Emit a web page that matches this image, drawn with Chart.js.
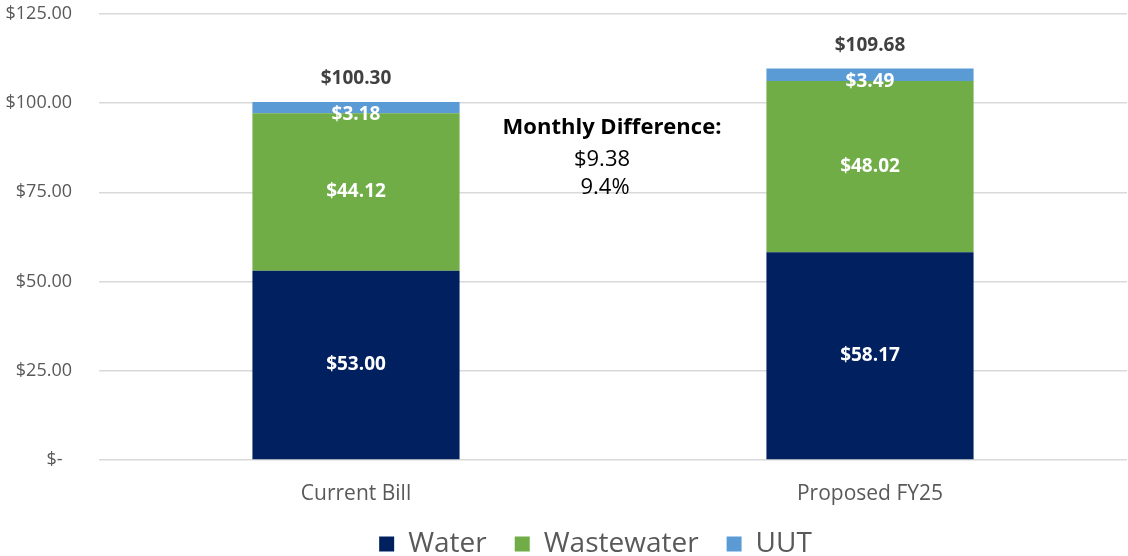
<!DOCTYPE html>
<html>
<head>
<meta charset="utf-8">
<script src="https://cdn.jsdelivr.net/npm/chart.js@4/dist/chart.umd.min.js"></script>
<style>
  html, body { margin: 0; padding: 0; background: #fff; }
  #wrap { width: 1128px; height: 556px; }
</style>
</head>
<body>
<div id="wrap"><canvas id="chart"></canvas></div>
<script>
const categories = ["Current Bill", "Proposed FY25"];
const water = [53.00, 58.17];
const wastewater = [44.12, 48.02];
const uut = [3.18, 3.49];
const yTicks = [0, 25, 50, 75, 100, 125];

const FONT = "'Open Sans'";
const money = v => "$" + v.toFixed(2);

// keep the wide legend spacing without the tall legend box
const legendFix = {
  id: "legendFix",
  beforeLayout(chart) {
    const lg = chart.legend;
    if (lg && !lg._fixed) {
      const fit = lg.fit;
      lg.fit = function () { fit.call(this); this.height = 50; };
      lg._fixed = true;
    }
  },
  afterLayout(chart) {
    const lg = chart.legend;
    lg.top -= 4;
    lg.bottom -= 4;
    lg.left += 32;
    lg.right += 32;
  }
};

// bar segment labels + totals + monthly difference note
const labelsPlugin = {
  id: "barLabels",
  afterDatasetsDraw(chart) {
    const ctx = chart.ctx;
    const y = chart.scales.y;
    const x = chart.scales.x;
    ctx.save();
    ctx.textAlign = "center";
    ctx.textBaseline = "middle";
    ctx.font = "bold 19px " + FONT;
    ctx.fillStyle = "#ffffff";
    chart.data.datasets.forEach((ds, i) => {
      chart.getDatasetMeta(i).data.forEach((bar, j) => {
        const h = bar.base - bar.y;
        let cy = (bar.y + bar.base) / 2;
        if (h < 20) cy = bar.y + 13;
        ctx.fillText(money(ds.data[j]), bar.x, cy);
      });
    });
    const totals = categories.map((c, j) =>
      chart.data.datasets.reduce((s, ds) => s + ds.data[j], 0));
    ctx.fillStyle = "#404040";
    totals.forEach((t, j) => {
      const bx = chart.getDatasetMeta(0).data[j].x;
      ctx.fillText(money(t), bx, y.getPixelForValue(t) - 23);
    });
    const diff = totals[1] - totals[0];
    const pct = diff / totals[0] * 100;
    const mx = x.getPixelForValue(0.5);
    ctx.fillStyle = "#000000";
    ctx.font = "bold 22px " + FONT;
    ctx.fillText("Monthly Difference:", mx - 1, y.getPixelForValue(93.1));
    ctx.font = "22px " + FONT;
    ctx.fillText(money(diff), mx - 11, y.getPixelForValue(84.1));
    ctx.fillText(pct.toFixed(1) + "%", mx - 8, y.getPixelForValue(76.4));
    ctx.restore();
  }
};

new Chart(document.getElementById("chart"), {
  type: "bar",
  data: {
    labels: categories,
    datasets: [
      { label: "Water", data: water, backgroundColor: "#002060" },
      { label: "Wastewater", data: wastewater, backgroundColor: "#70AD47" },
      { label: "UUT", data: uut, backgroundColor: "#5B9BD5" }
    ]
  },
  options: {
    responsive: true,
    maintainAspectRatio: false,
    animation: false,
    layout: { padding: { top: 0, right: 1, left: 0, bottom: 0 } },
    datasets: { bar: { categoryPercentage: 0.403, barPercentage: 1 } },
    plugins: {
      legend: {
        position: "bottom",
        labels: {
          font: { family: FONT, size: 28 },
          color: "#595959",
          boxWidth: 15,
          boxHeight: 15,
          padding: 28
        }
      },
      tooltip: { enabled: false }
    },
    scales: {
      x: {
        stacked: true,
        grid: { display: false },
        border: { display: false },
        ticks: { font: { family: FONT, size: 21 }, color: "#595959", padding: 13 },
        afterFit: s => { s.height = 46; }
      },
      y: {
        stacked: true,
        min: 0,
        max: 125,
        afterBuildTicks: s => { s.ticks = yTicks.map(v => ({ value: v })); },
        grid: { color: "#d9d9d9", lineWidth: 1.5, tickLength: 24, tickColor: "rgba(0,0,0,0)" },
        border: { display: false },
        ticks: {
          font: { family: FONT, size: 18 },
          color: "#595959",
          padding: 3,
          callback: v => v === 0 ? "$-  " : money(v)
        },
        afterFit: s => { s.width = 99; }
      }
    }
  },
  plugins: [legendFix, labelsPlugin]
});
</script>
</body>
</html>
